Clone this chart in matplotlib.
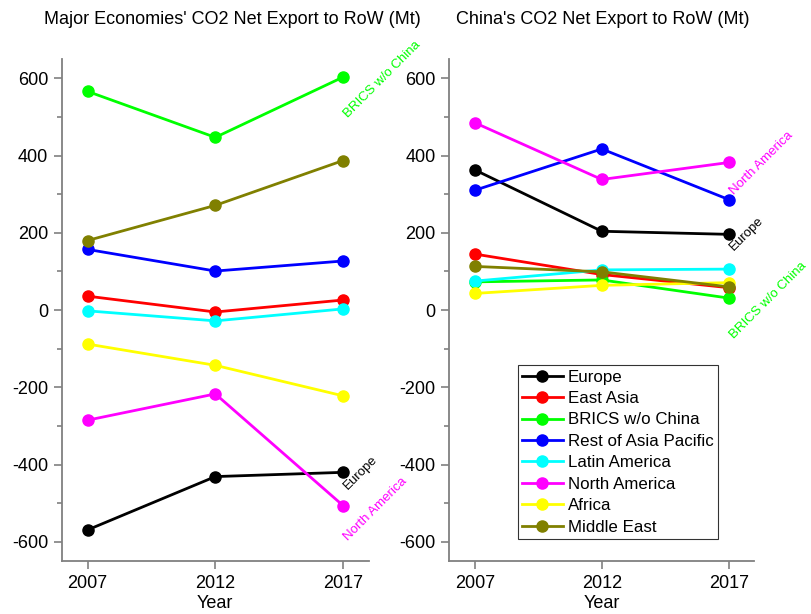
import numpy as np
import matplotlib.pyplot as plt
from matplotlib.ticker import MultipleLocator

plt.rcParams["font.family"] = ["Liberation Sans", "DejaVu Sans"]
plt.rcParams["axes.unicode_minus"] = False

years = [2007, 2012, 2017]
regions = [
    "Europe",
    "East Asia",
    "BRICS w/o China",
    "Rest of Asia Pacific",
    "Latin America",
    "North America",
    "Africa",
    "Middle East",
]
colors = ["black", "red", "#00ff00", "blue", "cyan", "magenta", "yellow", "#808000"]

# major economies' net export to RoW (Mt)
major = [
    [-569, -431, -420],
    [36, -5, 26],
    [566, 447, 603],
    [157, 101, 127],
    [-2, -28, 3],
    [-285, -217, -506],
    [-88, -143, -222],
    [180, 271, 387],
]
# China's net export to RoW (Mt)
china = [
    [363, 204, 196],
    [145, 92, 58],
    [73, 78, 31],
    [310, 417, 286],
    [75, 104, 106],
    [485, 338, 382],
    [43, 64, 71],
    [113, 99, 60],
]

titles = [
    "Major Economies' CO2 Net Export to RoW (Mt)",
    "China's CO2 Net Export to RoW (Mt)",
]

# end labels: (text, colour, y anchor)
labels_left = [("BRICS w/o China", "#00ff00", 497),
               ("Europe", "black", -466),
               ("North America", "magenta", -597)]
labels_right = [("North America", "magenta", 297),
                ("Europe", "black", 152),
                ("BRICS w/o China", "#00ff00", -76)]

fig = plt.figure(figsize=(8.11, 6.14), dpi=100)
ax1 = fig.add_axes([0.0765, 0.086, 0.378, 0.818])
ax2 = fig.add_axes([0.554, 0.086, 0.376, 0.818])

for ax, data, labels in [(ax1, major, labels_left), (ax2, china, labels_right)]:
    for i, name in enumerate(regions):
        ax.plot(years, data[i], color=colors[i], linewidth=2, marker="o",
                markersize=8, label=name)
    for txt, c, yv in labels:
        ax.text(2017.2, yv, txt, color=c, fontsize=9.5, rotation=45,
                rotation_mode="anchor", ha="left", va="baseline")
    ax.set_xlim(2006, 2018)
    ax.set_ylim(-650, 650)
    ax.set_xticks(years)
    ax.yaxis.set_major_locator(MultipleLocator(200))
    ax.yaxis.set_minor_locator(MultipleLocator(100))
    for s in ["top", "right"]:
        ax.spines[s].set_visible(False)
    for s in ["left", "bottom"]:
        ax.spines[s].set_color("#808080")
        ax.spines[s].set_linewidth(1.3)
    ax.tick_params(which="major", direction="out", length=6, width=1.2,
                   color="#808080", labelsize=13, pad=4)
    ax.tick_params(which="minor", direction="out", length=3.5, width=1.2,
                   color="#808080")
    ax.tick_params(axis="x", which="minor", length=0)
    ax.set_xlabel("Year", fontsize=13, labelpad=2)

fig.text(232 / 811, 1 - 20 / 614, titles[0], fontsize=13, ha="center", va="center")
fig.text(603 / 811, 1 - 20 / 614, titles[1], fontsize=13, ha="center", va="center")

leg = ax2.legend(loc="upper left", bbox_to_anchor=(0.225, 0.39), borderaxespad=0,
                 fontsize=12.2, frameon=True, fancybox=False, labelspacing=0.38,
                 handlelength=2.4, handletextpad=0.3, borderpad=0.25)
leg.get_frame().set_edgecolor("black")
leg.get_frame().set_linewidth(0.8)

fig.savefig("out.png", dpi=100)
